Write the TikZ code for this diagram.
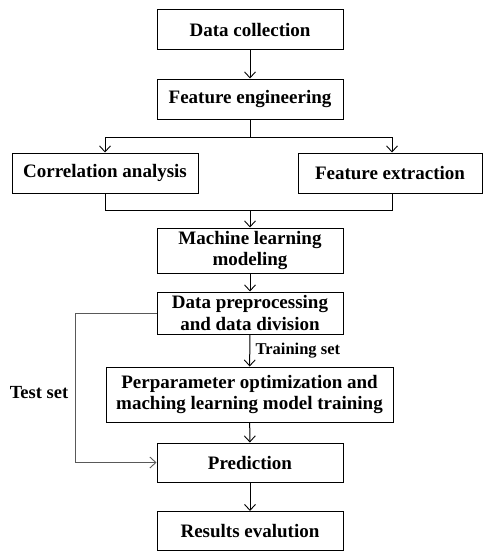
\documentclass[tikz,border=0pt]{standalone}
\usepackage{fontspec}
\setmainfont{Liberation Serif}
\usetikzlibrary{arrows.meta}

\tikzset{
  box/.style={draw, line width=1pt, minimum width=186pt, minimum height=40pt,
    inner sep=1pt, align=center, font=\fontsize{19}{21.5}\selectfont\bfseries},
  arr/.style={-{Straight Barb[length=6pt,width=11pt,line width=0.9pt]}},
  link/.style={line width=1pt},
  lbl/.style={font=\fontsize{18.5}{21}\selectfont\bfseries}
}

\begin{document}
\begin{tikzpicture}[x=1pt, y=-1pt]
  \useasboundingbox (0,0) rectangle (482,551);
  \node[box] (collect) at (250,30) {Data collection};
  \node[box] (feature) at (250,99) {Feature engineering};
  \node[box] (corr) at (105,173) {Correlation analysis};
  \node[box, minimum width=184pt] (extract) at (390,173) {Feature extraction};
  \node[box, minimum height=45pt] (mlmodel) at (250,250.5) {Machine learning\\modeling};
  \node[box, minimum height=42pt] (prep) at (250,313) {Data preprocessing\\and data division};
  \node[box, minimum width=287pt, minimum height=55pt] (train) at (249.5,394.5)
    {Perparameter optimization and\\maching learning model training};
  \node[box, minimum height=39pt] (predict) at (250,462.5) {Prediction};
  \node[box, minimum height=39pt] (evalu) at (250,531) {Results evalution};
  \coordinate (split) at (250,137);
  \coordinate (join) at (250,210);
%
  \draw[link, arr] (collect) -- (feature);
  \draw[link] (feature) -- (split);
  \draw[link, arr] (split) -| ([xshift=2pt]extract.north);
  \draw[link, arr] (split) -| (corr.north);
  \draw[link] (corr.south) |- (join);
  \draw[link] ([xshift=2pt]extract.south) |- (join);
  \draw[link, arr] (join) -- (mlmodel);
  \draw[link, arr] (mlmodel) -- (prep);
  \draw[link, arr] (prep) -- (train)
    node[midway, right, xshift=2pt, font=\fontsize{16.5}{19}\selectfont\bfseries] (trainset) {Training set};
  \draw[link, arr] (train) -- (predict);
  \draw[link, arr] (predict) -- (evalu);
  \draw[link, arr, gray!70!black] (prep.west) -- ++(-81,0) |- (predict.west);
  \node[lbl] (testset) at (39,393) {Test set};
\end{tikzpicture}
\end{document}
